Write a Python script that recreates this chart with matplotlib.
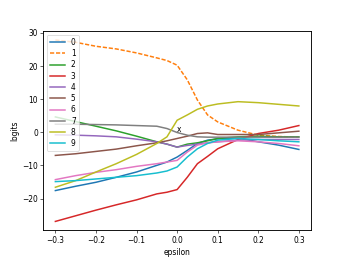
import numpy as np
import matplotlib
matplotlib.use("Agg")
import matplotlib.pyplot as plt

# epsilon values (x axis)
eps = [-0.3, -0.25, -0.2, -0.15, -0.1, -0.05, -0.025, 0.0,
       0.025, 0.05, 0.075, 0.1, 0.15, 0.2, 0.25, 0.3]

# logits per class
logit_0 = [-17.6, -16.3, -15.1, -13.6, -12.0, -10.0, -9.0, -7.5,
           -5.5, -3.4, -2.4, -2.0, -1.8, -2.9, -3.9, -5.2]
logit_1 = [27.8, 27.1, 25.9, 25.1, 23.9, 22.4, 21.6, 20.2,
           15.8, 9.7, 5.2, 3.1, 0.6, -0.9, -1.3, -1.5]
logit_2 = [4.6, 3.2, 1.8, 0.4, -1.2, -2.9, -3.6, -4.5,
           -3.6, -3.2, -2.6, -1.9, -1.4, -1.2, -1.4, -1.4]
logit_3 = [-26.9, -25.2, -23.5, -21.9, -20.4, -18.6, -18.1, -17.3,
           -13.6, -9.5, -7.3, -5.0, -2.2, -0.4, 0.6, 2.0]
logit_4 = [-0.8, -0.9, -1.1, -1.4, -2.1, -2.9, -3.6, -4.5,
           -4.0, -3.6, -3.2, -2.9, -2.4, -2.2, -2.2, -2.2]
logit_5 = [-7.0, -6.5, -5.8, -5.1, -4.1, -3.2, -2.6, -1.9,
           -1.2, -0.4, -0.2, -0.7, -0.7, -0.7, -0.2, 0.3]
logit_6 = [-14.3, -13.1, -12.1, -11.3, -10.3, -9.5, -9.0, -8.5,
           -6.0, -3.9, -3.2, -2.9, -2.6, -2.9, -3.4, -4.1]
logit_7 = [2.4, 2.4, 2.3, 2.2, 2.0, 1.8, 1.1, -0.1,
           -0.9, -1.4, -1.5, -1.5, -1.5, -1.5, -1.5, -1.5]
logit_8 = [-16.6, -14.6, -12.0, -9.5, -6.7, -3.4, -1.4, 3.6,
           5.2, 6.9, 7.9, 8.5, 9.2, 8.9, 8.4, 7.9]
logit_9 = [-14.9, -14.6, -14.1, -13.6, -13.1, -12.3, -11.7, -10.5,
           -7.5, -5.0, -3.4, -2.4, -1.9, -2.2, -2.6, -2.9]

logits = [logit_0, logit_1, logit_2, logit_3, logit_4,
          logit_5, logit_6, logit_7, logit_8, logit_9]
labels = [str(i) for i in range(10)]
true_class = 1

fig, ax = plt.subplots(figsize=(6.4, 4.8), dpi=54)
for i, vals in enumerate(logits):
    if i == true_class:
        ax.plot(eps, vals, "--", dashes=(2.8, 1.2), label=labels[i], linewidth=2)
    else:
        ax.plot(eps, vals, "-", label=labels[i], linewidth=2)

ax.text(0.005, 0.8, "x", ha="center", va="center")
ax.set_xlabel("epsilon")
ax.set_ylabel("logits")
for sp in ax.spines.values():
    sp.set_linewidth(1.2)
ax.legend(loc="upper left", labelspacing=0.3)

fig.savefig("out.png")
